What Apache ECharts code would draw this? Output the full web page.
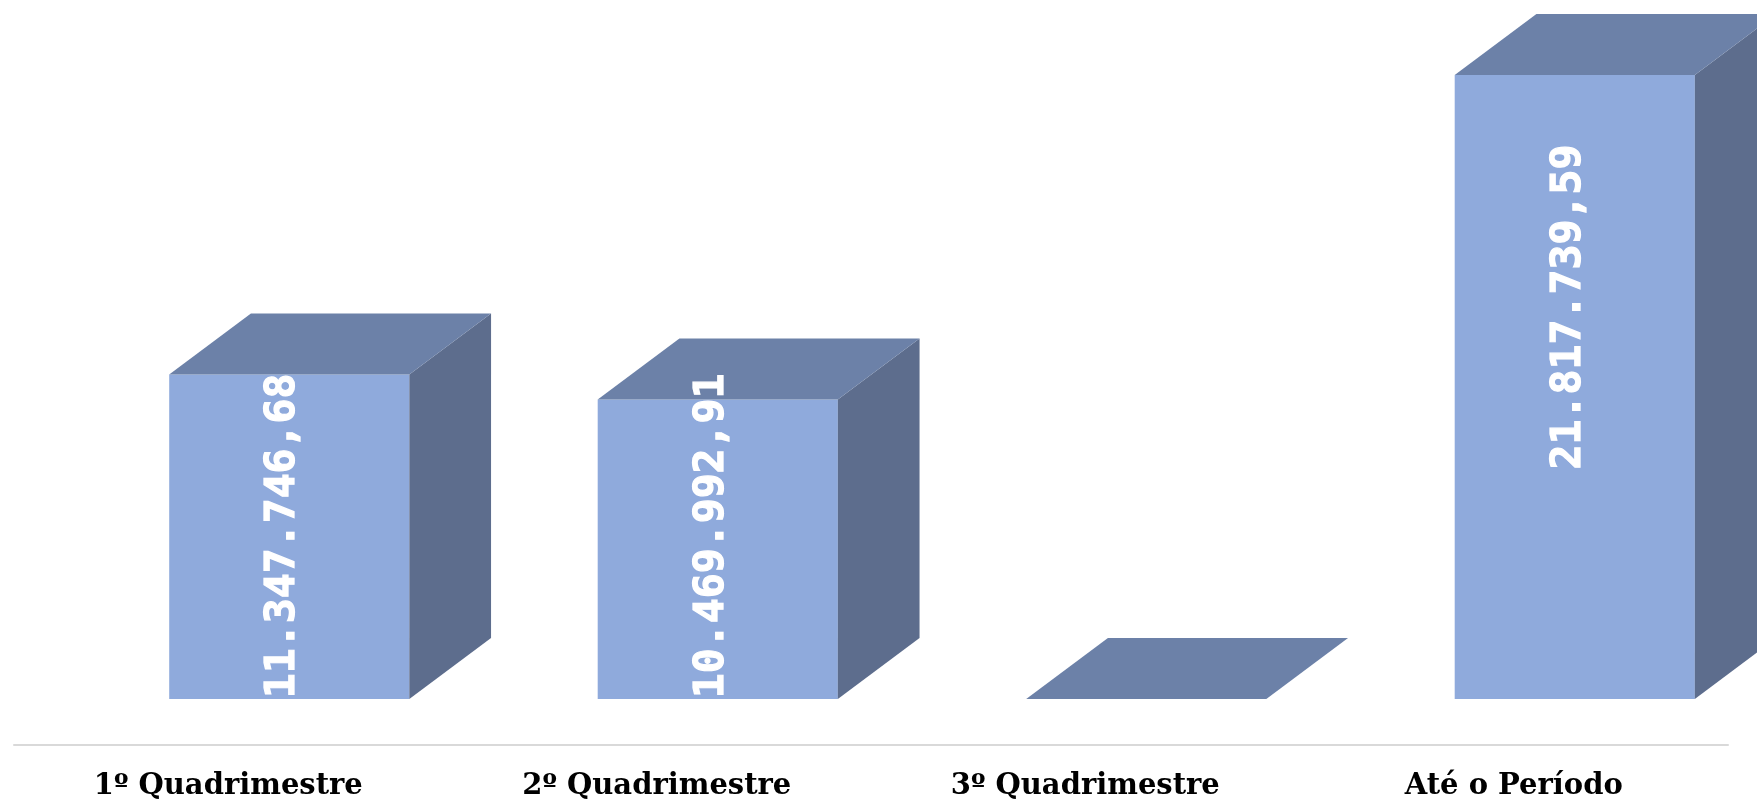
<!DOCTYPE html>
<html>
<head>
<meta charset="utf-8">
<script src="https://cdn.jsdelivr.net/npm/echarts@6/dist/echarts.min.js"></script>
<style>
html,body{margin:0;padding:0;background:#fff;}
#chart{width:1757px;height:802px;}
</style>
</head>
<body>
<div id="chart"></div>
<script>
const categories = ['1º Quadrimestre', '2º Quadrimestre', '3º Quadrimestre', 'Até o Período'];
const values = [11347746.68, 10469992.91, 0, 21817739.59];
const yMax = 25000000;

function fmtBR(v) {
  const parts = v.toFixed(2).split('.');
  const intPart = parts[0].replace(/\B(?=(\d{3})+(?!\d))/g, '.');
  return intPart + ',' + parts[1];
}

const FRONT = '#8FAADC';
const TOP = '#6C81A8';
const SIDE = '#5D6D8D';
const labelNudge = [0, 0, 0, -80];
const labelFont = 41.5;

const chart = echarts.init(document.getElementById('chart'), null, {renderer: 'canvas'});

chart.setOption({
  animation: false,
  backgroundColor: '#ffffff',
  grid: {left: 14, right: 29, top: 30, bottom: 57, containLabel: false},
  xAxis: {
    type: 'category',
    data: categories,
    axisLine: {show: true, lineStyle: {color: '#d9d9d9', width: 2}},
    axisTick: {show: false},
    axisLabel: {
      margin: 27,
      color: '#000',
      fontFamily: 'DejaVu Serif',
      fontWeight: 'bold',
      fontSize: 29
    }
  },
  yAxis: {
    type: 'value',
    min: 0,
    max: yMax,
    show: false,
    splitLine: {show: false}
  },
  series: [{
    type: 'custom',
    clip: false,
    data: values.map((v, i) => [i, v]),
    renderItem: function (params, api) {
      const idx = api.value(0);
      const val = api.value(1);
      const base = api.coord([idx, 0]);
      const top = api.coord([idx, val]);
      const band = api.size([1, 0])[0];
      const cx = base[0] + 0.1424 * band;
      const fw = 0.5604 * band;
      const dx = 0.1907 * band;
      const dy = 61;
      const lift = 46;
      const x0 = cx - fw / 2, x1 = cx + fw / 2;
      const yb = base[1] - lift, yt = top[1] - lift;
      const children = [];
      if (yb - yt > 0.5) {
        children.push({
          type: 'rect',
          shape: {x: x0, y: yt, width: fw, height: yb - yt},
          style: {fill: FRONT}
        });
        children.push({
          type: 'polygon',
          shape: {points: [[x1, yt], [x1 + dx, yt - dy], [x1 + dx, yb - dy], [x1, yb]]},
          style: {fill: SIDE}
        });
      }
      children.push({
        type: 'polygon',
        shape: {points: [[x0, yt], [x1, yt], [x1 + dx, yt - dy], [x0 + dx, yt - dy]]},
        style: {fill: TOP}
      });
      if (val > 0) {
        const text = fmtBR(val);
        const half = 0.59 * labelFont * text.length / 2;
        let my = (yb + yt) / 2;
        if (my + half > yb - 4) my = yb - 4 - half;
        my += labelNudge[idx];
        children.push({
          type: 'text',
          x: cx - 6,
          y: my,
          rotation: Math.PI / 2,
          style: {
            text: text,
            fill: '#ffffff',
            stroke: '#ffffff',
            lineWidth: 1.2,
            font: 'bold ' + labelFont + 'px "DejaVu Sans Mono"',
            align: 'center',
            verticalAlign: 'middle'
          }
        });
      }
      return {type: 'group', children: children};
    }
  }]
});
</script>
</body>
</html>
